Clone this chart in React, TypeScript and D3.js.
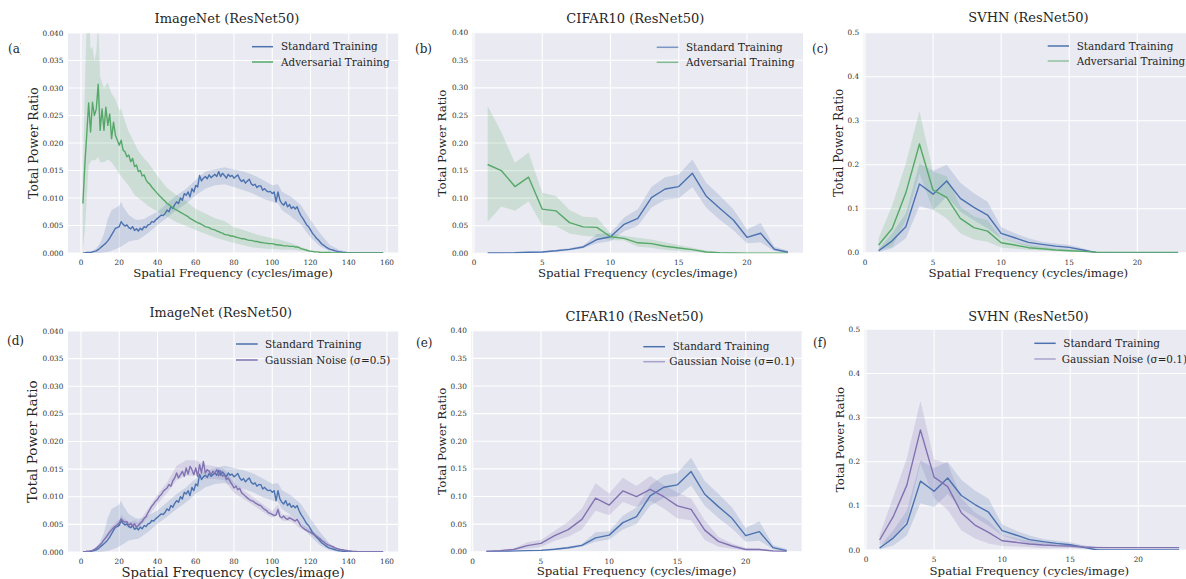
import React from 'react';
import * as d3 from 'd3';

// ---------- data ----------

// ImageNet: spatial frequency 1..158
const IN_FREQ = d3.range(1, 159);
// coarser grid used for the confidence bands
const IN_BAND_FREQ = [1, 2, 3, 4, 5, 6, 7, 8, 9, 10, 12, 14, 16, 18, 20, 21, 22, 25, 28, 30, 33, 35, 40, 45, 50,
  55, 60, 65, 70, 75, 80, 85, 90, 95, 100, 103, 105, 110, 115, 120, 125, 130, 135, 140, 145, 150, 158];

const IN_STD = [
  0, 0, 0.0001, 0.0001, 0.0001, 0.0002, 0.0003, 0.0004, 0.0006, 0.0009,
  0.0012, 0.0015, 0.0018, 0.0022, 0.0027, 0.0033, 0.0039, 0.0045, 0.0046, 0.0048,
  0.0057, 0.0052, 0.0049, 0.0051, 0.0046, 0.0044, 0.0048, 0.0041, 0.0044, 0.0040,
  0.0045, 0.0042, 0.0048, 0.0046, 0.0051, 0.0052, 0.0057, 0.0056, 0.0060, 0.0063,
  0.0066, 0.0069, 0.0068, 0.0072, 0.0078, 0.0075, 0.0084, 0.0081, 0.0088, 0.0093,
  0.0090, 0.0100, 0.0096, 0.0108, 0.0105, 0.0111, 0.0102, 0.0117, 0.0111, 0.0123,
  0.0120, 0.0141, 0.0131, 0.0136, 0.0139, 0.0135, 0.0142, 0.0137, 0.0140, 0.0143,
  0.0139, 0.0148, 0.0139, 0.0145, 0.0141, 0.0136, 0.0143, 0.0139, 0.0141, 0.0136,
  0.0139, 0.0142, 0.0134, 0.0130, 0.0133, 0.0127, 0.0131, 0.0134, 0.0126, 0.0123,
  0.0125, 0.0119, 0.0122, 0.0122, 0.0114, 0.0117, 0.0113, 0.0111, 0.0112, 0.0108,
  0.0111, 0.0093, 0.0111, 0.0096, 0.0090, 0.0087, 0.0093, 0.0084, 0.0088, 0.0081,
  0.0084, 0.0080, 0.0084, 0.0075, 0.0068, 0.0063, 0.0057, 0.0051, 0.0048, 0.0042,
  0.0036, 0.0032, 0.0027, 0.0024, 0.0020, 0.0016, 0.0014, 0.0011, 0.0009, 0.0007,
  0.0006, 0.0005, 0.0004, 0.0003, 0.0002, 0.0002, 0.0001, 0.0001, 0, 0,
  0, 0, 0, 0, 0, 0, 0, 0, 0, 0,
  0, 0, 0, 0, 0, 0, 0, 0,
];
const IN_STD_LO = [0, 0, 0, 0, 0, 0, 0, 0, 0, 0, 0.0001, 0.0002, 0.0004, 0.0007, 0.0010,
  0.0012, 0.0014, 0.0021, 0.0023, 0.0024, 0.0031, 0.0036, 0.0051, 0.0064, 0.0078,
  0.0090, 0.0105, 0.0117, 0.0123, 0.0125, 0.0120, 0.0114, 0.0108, 0.0099, 0.0093,
  0.0090, 0.0078, 0.0066, 0.0052, 0.0028, 0.0012, 0.0003, 0, 0, 0, 0, 0];
const IN_STD_HI = [0, 0, 0.0001, 0.0001, 0.0002, 0.0004, 0.0006, 0.0009, 0.0013, 0.0018, 0.0035, 0.0062, 0.0078, 0.0082, 0.0086,
  0.0093, 0.0084, 0.0069, 0.0062, 0.0060, 0.0062, 0.0066, 0.0075, 0.0090, 0.0105,
  0.0117, 0.0133, 0.0148, 0.0152, 0.0156, 0.0152, 0.0148, 0.0142, 0.0133, 0.0123,
  0.0125, 0.0112, 0.0102, 0.0087, 0.0060, 0.0036, 0.0015, 0.0006, 0.0002, 0, 0, 0];

const IN_ADV = [
  0.0090, 0.0160, 0.0215, 0.0273, 0.0220, 0.0274, 0.0250, 0.0262, 0.0307, 0.0223,
  0.0262, 0.0223, 0.0265, 0.0232, 0.0253, 0.0208, 0.0238, 0.0214, 0.0205, 0.0196,
  0.0205, 0.0187, 0.0184, 0.0175, 0.0178, 0.0166, 0.0172, 0.0157, 0.0160, 0.0148,
  0.0150, 0.0140, 0.0142, 0.0133, 0.0128, 0.0125, 0.0120, 0.0116, 0.0112, 0.0108,
  0.0104, 0.0101, 0.0097, 0.0094, 0.0090, 0.0088, 0.0085, 0.0083, 0.0080, 0.0078,
  0.0076, 0.0074, 0.0072, 0.0070, 0.0068, 0.0066, 0.0063, 0.0061, 0.0059, 0.0057,
  0.0055, 0.0054, 0.0052, 0.0050, 0.0048, 0.0047, 0.0046, 0.0044, 0.0043, 0.0042,
  0.0040, 0.0039, 0.0037, 0.0036, 0.0034, 0.0033, 0.0033, 0.0031, 0.0031, 0.0030,
  0.0029, 0.0028, 0.0027, 0.0026, 0.0026, 0.0025, 0.0024, 0.0023, 0.0023, 0.0022,
  0.0021, 0.0021, 0.0020, 0.0019, 0.0019, 0.0018, 0.0018, 0.0017, 0.0017, 0.0017,
  0.0016, 0.0015, 0.0015, 0.0014, 0.0014, 0.0013, 0.0013, 0.0013, 0.0012, 0.0012,
  0.0012, 0.0011, 0.0011, 0.0010, 0.0008, 0.0007, 0.0006, 0.0005, 0.0004, 0.0003,
  0.0003, 0.0002, 0.0002, 0.0002, 0.0001, 0.0001, 0.0001, 0.0001, 0.0001, 0.0001,
  0, 0, 0, 0, 0, 0, 0, 0, 0, 0,
  0, 0, 0, 0, 0, 0, 0, 0, 0, 0,
  0, 0, 0, 0, 0, 0, 0, 0,
];
const IN_ADV_LO = [0.0005, 0.0040, 0.0100, 0.0160, 0.0165, 0.0170, 0.0168, 0.0170, 0.0175, 0.0165, 0.0165, 0.0170, 0.0165, 0.0155, 0.0143,
  0.0140, 0.0135, 0.0122, 0.0106, 0.0100, 0.0092, 0.0086, 0.0075, 0.0066, 0.0056,
  0.0049, 0.0042, 0.0035, 0.0028, 0.0023, 0.0018, 0.0014, 0.0010, 0.0008, 0.0007,
  0.0007, 0.0006, 0.0006, 0.0004, 0.0002, 0.0001, 0, 0, 0, 0, 0, 0];
const IN_ADV_HI = [0.0140, 0.0300, 0.0420, 0.0450, 0.0370, 0.0375, 0.0350, 0.0365, 0.0420, 0.0320, 0.0300, 0.0310, 0.0290, 0.0280, 0.0260,
  0.0262, 0.0250, 0.0220, 0.0200, 0.0185, 0.0172, 0.0165, 0.0140, 0.0118, 0.0105,
  0.0094, 0.0080, 0.0072, 0.0063, 0.0058, 0.0047, 0.0042, 0.0036, 0.0031, 0.0027,
  0.0025, 0.0023, 0.0018, 0.0011, 0.0005, 0.0002, 0.0001, 0, 0, 0, 0, 0];

const IN_GAUSS = [
  0, 0, 0.0001, 0.0001, 0.0002, 0.0003, 0.0005, 0.0007, 0.0010, 0.0013,
  0.0017, 0.0022, 0.0026, 0.0031, 0.0036, 0.0040, 0.0044, 0.0047, 0.0049, 0.0053,
  0.0060, 0.0056, 0.0054, 0.0055, 0.0048, 0.0052, 0.0047, 0.0051, 0.0045, 0.0048,
  0.0052, 0.0055, 0.0061, 0.0064, 0.0071, 0.0077, 0.0083, 0.0087, 0.0092, 0.0095,
  0.0101, 0.0104, 0.0110, 0.0113, 0.0116, 0.0122, 0.0119, 0.0129, 0.0134, 0.0143,
  0.0134, 0.0140, 0.0146, 0.0137, 0.0152, 0.0141, 0.0155, 0.0149, 0.0140, 0.0152,
  0.0137, 0.0158, 0.0143, 0.0164, 0.0143, 0.0149, 0.0146, 0.0140, 0.0146, 0.0143,
  0.0149, 0.0138, 0.0147, 0.0137, 0.0140, 0.0131, 0.0134, 0.0128, 0.0122, 0.0116,
  0.0119, 0.0113, 0.0115, 0.0107, 0.0104, 0.0101, 0.0098, 0.0095, 0.0093, 0.0092,
  0.0089, 0.0087, 0.0085, 0.0084, 0.0080, 0.0077, 0.0075, 0.0071, 0.0070, 0.0068,
  0.0066, 0.0067, 0.0077, 0.0064, 0.0062, 0.0065, 0.0061, 0.0059, 0.0062, 0.0060,
  0.0058, 0.0056, 0.0059, 0.0053, 0.0047, 0.0044, 0.0041, 0.0039, 0.0037, 0.0036,
  0.0033, 0.0031, 0.0029, 0.0026, 0.0024, 0.0020, 0.0018, 0.0015, 0.0013, 0.0012,
  0.0010, 0.0009, 0.0007, 0.0006, 0.0005, 0.0004, 0.0004, 0.0003, 0.0003, 0.0002,
  0.0002, 0.0001, 0.0001, 0.0001, 0, 0, 0, 0, 0, 0,
  0, 0, 0, 0, 0, 0, 0, 0,
];
const IN_GAUSS_LO = [0, 0, 0, 0, 0, 0, 0, 0.0004, 0.0006, 0.0010, 0.0018, 0.0026, 0.0034, 0.0041, 0.0047,
  0.0053, 0.0050, 0.0043, 0.0045, 0.0043, 0.0055, 0.0064, 0.0087, 0.0107, 0.0130,
  0.0138, 0.0138, 0.0132, 0.0132, 0.0130, 0.0107, 0.0096, 0.0085, 0.0073, 0.0062,
  0.0068, 0.0057, 0.0055, 0.0042, 0.0032, 0.0021, 0.0010, 0.0004, 0.0001, 0, 0, 0];
const IN_GAUSS_HI = [0, 0, 0.0001, 0.0001, 0.0002, 0.0004, 0.0006, 0.0009, 0.0013, 0.0016, 0.0026, 0.0036, 0.0046, 0.0053, 0.0059,
  0.0067, 0.0063, 0.0054, 0.0057, 0.0054, 0.0068, 0.0078, 0.0104, 0.0126, 0.0156,
  0.0166, 0.0166, 0.0158, 0.0155, 0.0150, 0.0126, 0.0112, 0.0099, 0.0087, 0.0074,
  0.0086, 0.0068, 0.0066, 0.0052, 0.0040, 0.0027, 0.0014, 0.0006, 0.0003, 0.0001, 0, 0];

// CIFAR10 / SVHN: spatial frequency 1..23
const SMALL_FREQ = d3.range(1, 24);

const CIFAR_STD = [0.0006, 0.0006, 0.001, 0.002, 0.0024, 0.0045, 0.0072, 0.0115, 0.025, 0.030, 0.0526, 0.0634,
  0.101, 0.1166, 0.121, 0.145, 0.104, 0.0816, 0.0604, 0.029, 0.0363, 0.0073, 0.002];
const CIFAR_STD_LO = [0, 0, 0, 0.001, 0.0015, 0.003, 0.005, 0.009, 0.018, 0.022, 0.040, 0.050,
  0.083, 0.097, 0.100, 0.120, 0.083, 0.061, 0.042, 0.018, 0.020, 0.004, 0];
const CIFAR_STD_HI = [0.001, 0.001, 0.002, 0.003, 0.0035, 0.006, 0.0095, 0.014, 0.035, 0.037, 0.065, 0.080,
  0.120, 0.138, 0.143, 0.170, 0.128, 0.105, 0.080, 0.043, 0.055, 0.012, 0.005];

const CIFAR_ADV = [0.161, 0.150, 0.121, 0.138, 0.080, 0.077, 0.0556, 0.048, 0.047, 0.030, 0.027, 0.019,
  0.0175, 0.0127, 0.0097, 0.0066, 0.0024, 0.0012, 0.0006, 0.0003, 0.0003, 0.0003, 0.0003];
const CIFAR_ADV_LO = [0.057, 0.085, 0.077, 0.094, 0.051, 0.0495, 0.036, 0.032, 0.030, 0.024, 0.023, 0.012,
  0.010, 0.006, 0.004, 0.003, 0.001, 0, 0, 0, 0, 0, 0];
const CIFAR_ADV_HI = [0.267, 0.220, 0.164, 0.183, 0.110, 0.104, 0.0785, 0.0665, 0.065, 0.036, 0.032, 0.0284,
  0.025, 0.020, 0.015, 0.010, 0.005, 0.002, 0.001, 0.001, 0.001, 0.001, 0.001];

const CIFAR_GAUSS = [0.0006, 0.002, 0.004, 0.011, 0.015, 0.029, 0.040, 0.0585, 0.097, 0.0845, 0.110, 0.0995,
  0.113, 0.0995, 0.083, 0.0766, 0.039, 0.0187, 0.0103, 0.004, 0.004, 0.0012, 0.0006];
const CIFAR_GAUSS_LO = [0, 0.001, 0.002, 0.0054, 0.008, 0.020, 0.027, 0.040, 0.074, 0.066, 0.090, 0.081,
  0.092, 0.078, 0.060, 0.057, 0.021, 0.009, 0.0054, 0.002, 0.002, 0.0005, 0];
const CIFAR_GAUSS_HI = [0.001, 0.003, 0.006, 0.017, 0.021, 0.038, 0.054, 0.078, 0.124, 0.1055, 0.134, 0.119,
  0.137, 0.1206, 0.107, 0.0965, 0.057, 0.027, 0.015, 0.007, 0.006, 0.002, 0.001];

const SVHN_STD = [0.0045, 0.027, 0.059, 0.156, 0.133, 0.163, 0.1235, 0.103, 0.0856, 0.044, 0.034, 0.0235,
  0.019, 0.015, 0.012, 0.006, 0, 0, 0, 0, 0, 0, 0];
const SVHN_STD_LO = [0.001, 0.010, 0.0326, 0.106, 0.097, 0.127, 0.093, 0.074, 0.055, 0.0326, 0.0235, 0.0136,
  0.011, 0.008, 0.006, 0.0023, 0, 0, 0, 0, 0, 0, 0];
const SVHN_STD_HI = [0.0076, 0.044, 0.089, 0.203, 0.186, 0.200, 0.159, 0.135, 0.116, 0.058, 0.044, 0.0326,
  0.025, 0.021, 0.0174, 0.010, 0.001, 0, 0, 0, 0, 0, 0];

const SVHN_ADV = [0.0174, 0.055, 0.136, 0.247, 0.142, 0.126, 0.078, 0.057, 0.049, 0.0227, 0.0174, 0.0114,
  0.009, 0.006, 0.0045, 0.003, 0.001, 0.0005, 0.0005, 0.0005, 0.0005, 0.0005, 0.0005];
const SVHN_ADV_LO = [0.005, 0.0136, 0.074, 0.180, 0.098, 0.078, 0.044, 0.030, 0.025, 0.012, 0.009, 0.006,
  0.005, 0.004, 0.003, 0.002, 0, 0, 0, 0, 0, 0, 0];
const SVHN_ADV_HI = [0.0326, 0.108, 0.203, 0.322, 0.184, 0.174, 0.105, 0.082, 0.074, 0.034, 0.025, 0.0174,
  0.013, 0.009, 0.007, 0.005, 0.002, 0.001, 0.001, 0.001, 0.001, 0.001, 0.001];

const SVHN_GAUSS = [0.0227, 0.0755, 0.147, 0.272, 0.165, 0.1435, 0.0846, 0.0566, 0.040, 0.021, 0.0174, 0.0136,
  0.0113, 0.0098, 0.009, 0.0068, 0.0053, 0.0053, 0.0053, 0.0053, 0.0053, 0.0053, 0.0053];
const SVHN_GAUSS_LO = [0.011, 0.026, 0.068, 0.196, 0.117, 0.0906, 0.045, 0.026, 0.015, 0.009, 0.008, 0.006,
  0.004, 0.004, 0.004, 0.004, 0.004, 0.004, 0.004, 0.004, 0.004, 0.004, 0.004];
const SVHN_GAUSS_HI = [0.034, 0.120, 0.208, 0.338, 0.205, 0.196, 0.117, 0.085, 0.066, 0.034, 0.027, 0.021,
  0.017, 0.015, 0.013, 0.010, 0.008, 0.007, 0.007, 0.007, 0.007, 0.007, 0.007];

// ticks
const IN_X_TICKS = [0, 20, 40, 60, 80, 100, 120, 140, 160];
const SMALL_X_TICKS = [0, 5, 10, 15, 20];
const IN_Y_TICKS = [0, 0.005, 0.01, 0.015, 0.02, 0.025, 0.03, 0.035, 0.04];
const CIFAR_Y_TICKS = [0, 0.05, 0.1, 0.15, 0.2, 0.25, 0.3, 0.35, 0.4];
const SVHN_Y_TICKS = [0, 0.1, 0.2, 0.3, 0.4, 0.5];

const STD_NAME = 'Standard Training';
const ADV_NAME = 'Adversarial Training';

// ---------- styling ----------
const BG = '#EAEAF2';
const BLUE = '#4C72B0';
const GREEN = '#55A868';
const PURPLE = '#8172B2';
const FONT = '"DejaVu Serif", serif';
const X_LABEL = 'Spatial Frequency (cycles/image)';
const Y_LABEL = 'Total Power Ratio';

interface Curve {
  x: number[];
  y: number[];
  bandX: number[];
  lo: number[];
  hi: number[];
  color: string;
}

interface LegendItem {
  name: string;
  color: string;
  opacity: number;
  textX: number;
}

interface PanelSpec {
  id: string;
  tag: string;
  tagX: number;
  tagY: number;
  tagClipX?: number;
  title: string;
  titleX: number;
  titleY: number;
  titleSize: number;
  xRef: [number, number];
  xPix: [number, number];
  xLim: [number, number];
  yLim: [number, number];
  yPix: [number, number];
  xTicks: number[];
  yTicks: number[];
  yFmt: string;
  xLabelY: number;
  xLabelSize: number;
  yLabelX: number;
  yLabelSize: number;
  curves: Curve[];
  legend: LegendItem[];
  legendLine: [number, number];
  legendY: number[];
}

const curve = (x: number[], y: number[], bandX: number[], lo: number[], hi: number[], color: string): Curve =>
  ({ x, y, bandX, lo, hi, color });

const inStd = curve(IN_FREQ, IN_STD, IN_BAND_FREQ, IN_STD_LO, IN_STD_HI, BLUE);
const inAdv = curve(IN_FREQ, IN_ADV, IN_BAND_FREQ, IN_ADV_LO, IN_ADV_HI, GREEN);
const inGauss = curve(IN_FREQ, IN_GAUSS, IN_BAND_FREQ, IN_GAUSS_LO, IN_GAUSS_HI, PURPLE);
const cfStd = curve(SMALL_FREQ, CIFAR_STD, SMALL_FREQ, CIFAR_STD_LO, CIFAR_STD_HI, BLUE);
const cfAdv = curve(SMALL_FREQ, CIFAR_ADV, SMALL_FREQ, CIFAR_ADV_LO, CIFAR_ADV_HI, GREEN);
const cfGauss = curve(SMALL_FREQ, CIFAR_GAUSS, SMALL_FREQ, CIFAR_GAUSS_LO, CIFAR_GAUSS_HI, PURPLE);
const svStd = curve(SMALL_FREQ, SVHN_STD, SMALL_FREQ, SVHN_STD_LO, SVHN_STD_HI, BLUE);
const svAdv = curve(SMALL_FREQ, SVHN_ADV, SMALL_FREQ, SVHN_ADV_LO, SVHN_ADV_HI, GREEN);
const svGauss = curve(SMALL_FREQ, SVHN_GAUSS, SMALL_FREQ, SVHN_GAUSS_LO, SVHN_GAUSS_HI, PURPLE);

const PANELS: PanelSpec[] = [
  {
    id: 'a', tag: '(a)', tagX: 8, tagY: 53, tagClipX: 21,
    title: 'ImageNet (ResNet50)', titleX: 227, titleY: 22.7, titleSize: 13,
    xRef: [0, 160], xPix: [81, 387], xLim: [-6.85, 165.85],
    yLim: [0, 0.04], yPix: [253, 33],
    xTicks: IN_X_TICKS, yTicks: IN_Y_TICKS, yFmt: '.3f',
    xLabelY: 276.7, xLabelSize: 11.8, yLabelX: 37.5, yLabelSize: 12.4,
    curves: [inStd, inAdv],
    legend: [
      { name: STD_NAME, color: BLUE, opacity: 1, textX: 281 },
      { name: ADV_NAME, color: GREEN, opacity: 1, textX: 281 },
    ],
    legendLine: [252, 273], legendY: [46.7, 62],
  },
  {
    id: 'b', tag: '(b)', tagX: 415, tagY: 53,
    title: 'CIFAR10 (ResNet50)', titleX: 635.3, titleY: 22.7, titleSize: 13,
    xRef: [0, 20], xPix: [474, 747], xLim: [-0.1, 24.1],
    yLim: [0, 0.4], yPix: [253.3, 32.7],
    xTicks: SMALL_X_TICKS, yTicks: CIFAR_Y_TICKS, yFmt: '.2f',
    xLabelY: 276.7, xLabelSize: 11.8, yLabelX: 446, yLabelSize: 11.9,
    curves: [cfStd, cfAdv],
    legend: [
      { name: STD_NAME, color: BLUE, opacity: 0.7, textX: 686 },
      { name: ADV_NAME, color: GREEN, opacity: 0.7, textX: 686 },
    ],
    legendLine: [656.7, 678.3], legendY: [47.3, 62.3],
  },
  {
    id: 'c', tag: '(c)', tagX: 812, tagY: 53,
    title: 'SVHN (ResNet50)', titleX: 1028.5, titleY: 21.7, titleSize: 13,
    xRef: [0, 20], xPix: [865, 1137.3], xLim: [-0.1, 24.1],
    yLim: [0, 0.5], yPix: [252.7, 32.7],
    xTicks: SMALL_X_TICKS, yTicks: SVHN_Y_TICKS, yFmt: '.1f',
    xLabelY: 276.7, xLabelSize: 11.8, yLabelX: 843, yLabelSize: 12,
    curves: [svStd, svAdv],
    legend: [
      { name: STD_NAME, color: BLUE, opacity: 1, textX: 1076.7 },
      { name: ADV_NAME, color: GREEN, opacity: 0.6, textX: 1076.7 },
    ],
    legendLine: [1047.7, 1069], legendY: [46, 61],
  },
  {
    id: 'd', tag: '(d)', tagX: 7, tagY: 345,
    title: 'ImageNet (ResNet50)', titleX: 220.8, titleY: 316.7, titleSize: 12.8,
    xRef: [0, 160], xPix: [81, 387], xLim: [-6.85, 165.85],
    yLim: [0, 0.04], yPix: [552, 331],
    xTicks: IN_X_TICKS, yTicks: IN_Y_TICKS, yFmt: '.3f',
    xLabelY: 577, xLabelSize: 13.2, yLabelX: 37, yLabelSize: 13.6,
    curves: [inStd, inGauss],
    legend: [
      { name: STD_NAME, color: BLUE, opacity: 1, textX: 265 },
      { name: 'Gaussian Noise (σ=0.5)', color: PURPLE, opacity: 1, textX: 265 },
    ],
    legendLine: [236, 257.7], legendY: [344, 360],
  },
  {
    id: 'e', tag: '(e)', tagX: 416, tagY: 346.7,
    title: 'CIFAR10 (ResNet50)', titleX: 634.5, titleY: 321, titleSize: 13,
    xRef: [0, 20], xPix: [472.7, 745.7], xLim: [-0.1, 24.1],
    yLim: [0, 0.4], yPix: [551.7, 330.7],
    xTicks: SMALL_X_TICKS, yTicks: CIFAR_Y_TICKS, yFmt: '.2f',
    xLabelY: 575, xLabelSize: 11.8, yLabelX: 446, yLabelSize: 11.9,
    curves: [cfStd, cfGauss],
    legend: [
      { name: STD_NAME, color: BLUE, opacity: 1, textX: 672.7 },
      { name: 'Gaussian Noise (σ=0.1)', color: PURPLE, opacity: 0.6, textX: 669.3 },
    ],
    legendLine: [643.3, 665], legendY: [346.7, 361.7],
  },
  {
    id: 'f', tag: '(f)', tagX: 813, tagY: 346.7,
    title: 'SVHN (ResNet50)', titleX: 1028.5, titleY: 320.7, titleSize: 13,
    xRef: [0, 20], xPix: [866, 1138.3], xLim: [-0.1, 24.1],
    yLim: [0, 0.5], yPix: [550, 329.3],
    xTicks: SMALL_X_TICKS, yTicks: SVHN_Y_TICKS, yFmt: '.1f',
    xLabelY: 575, xLabelSize: 11.8, yLabelX: 843.5, yLabelSize: 11.7,
    curves: [svStd, svGauss],
    legend: [
      { name: STD_NAME, color: BLUE, opacity: 1, textX: 1063.3 },
      { name: 'Gaussian Noise (σ=0.1)', color: PURPLE, opacity: 0.6, textX: 1061.7 },
    ],
    legendLine: [1034.3, 1055.7], legendY: [343.3, 359],
  },
];

const Panel: React.FC<{ p: PanelSpec }> = ({ p }) => {
  const xs = d3.scaleLinear().domain(p.xRef).range(p.xPix);
  const ys = d3.scaleLinear().domain(p.yLim).range(p.yPix);
  const left = xs(p.xLim[0]);
  const right = xs(p.xLim[1]);
  const top = ys(p.yLim[1]);
  const bottom = ys(p.yLim[0]);
  const fmt = d3.format(p.yFmt);
  const clipId = `plot-clip-${p.id}`;

  const line = d3.line<[number, number]>().x(d => xs(d[0])).y(d => ys(d[1]));
  const area = d3.area<[number, number, number]>()
    .x(d => xs(d[0]))
    .y0(d => ys(d[1]))
    .y1(d => ys(d[2]));

  return (
    <g>
      <defs>
        <clipPath id={clipId}>
          <rect x={left} y={top} width={right - left} height={bottom - top} />
        </clipPath>
        {p.tagClipX !== undefined && (
          <clipPath id={`tag-clip-${p.id}`}>
            <rect x={0} y={p.tagY - 20} width={p.tagClipX} height={30} />
          </clipPath>
        )}
      </defs>

      {/* background + grid */}
      <rect x={left} y={top} width={right - left} height={bottom - top} fill={BG} />
      {p.yTicks.map(t => (
        <line key={`gy${t}`} x1={left} x2={right} y1={ys(t)} y2={ys(t)} stroke="#fff" strokeWidth={1.1} />
      ))}
      {p.xTicks.map(t => (
        <line key={`gx${t}`} x1={xs(t)} x2={xs(t)} y1={top} y2={bottom} stroke="#fff" strokeWidth={1.1} />
      ))}

      {/* bands, then mean lines */}
      <g clipPath={`url(#${clipId})`}>
        {p.curves.map((c, i) => (
          <path
            key={`band${i}`}
            d={area(c.bandX.map((x, j) => [x, c.lo[j], c.hi[j]] as [number, number, number])) || ''}
            fill={c.color}
            fillOpacity={0.2}
          />
        ))}
        {p.curves.map((c, i) => (
          <path
            key={`line${i}`}
            d={line(c.x.map((x, j) => [x, c.y[j]] as [number, number])) || ''}
            fill="none"
            stroke={c.color}
            strokeWidth={1.4}
            strokeLinejoin="round"
          />
        ))}
      </g>

      {/* tick labels */}
      {p.xTicks.map(t => (
        <text key={`tx${t}`} x={xs(t)} y={bottom + 12} fontSize={7.3} fill="#333" textAnchor="middle">
          {t}
        </text>
      ))}
      {p.yTicks.map(t => (
        <text key={`ty${t}`} x={left - 4.5} y={ys(t)} dy="0.35em" fontSize={7.3} fill="#333" textAnchor="end">
          {fmt(t)}
        </text>
      ))}

      {/* axis labels and title */}
      <text x={(left + right) / 2} y={p.xLabelY} fontSize={p.xLabelSize} fill="#262626" textAnchor="middle">
        {X_LABEL}
      </text>
      <text
        transform={`translate(${p.yLabelX},${(top + bottom) / 2}) rotate(-90)`}
        fontSize={p.yLabelSize}
        fill="#262626"
        textAnchor="middle"
      >
        {Y_LABEL}
      </text>
      <text x={p.titleX} y={p.titleY} fontSize={p.titleSize} fill="#262626" textAnchor="middle">
        {p.title}
      </text>

      {/* legend */}
      {p.legend.map((l, i) => (
        <g key={`lg${i}`}>
          <line
            x1={p.legendLine[0]}
            x2={p.legendLine[1]}
            y1={p.legendY[i]}
            y2={p.legendY[i]}
            stroke={l.color}
            strokeOpacity={l.opacity}
            strokeWidth={1.5}
          />
          <text x={l.textX} y={p.legendY[i]} dy="0.35em" fontSize={10.4} fill="#262626">
            {l.name}
          </text>
        </g>
      ))}

      {/* panel tag */}
      <text
        x={p.tagX}
        y={p.tagY}
        fontSize={12}
        fill="#262626"
        clipPath={p.tagClipX !== undefined ? `url(#tag-clip-${p.id})` : undefined}
      >
        {p.tag}
      </text>
    </g>
  );
};

export default function App() {
  return (
    <div style={{ position: 'absolute', left: 0, top: 0 }}>
      <svg width={1186} height={579} style={{ display: 'block', background: '#fff', fontFamily: FONT }}>
        {PANELS.map(p => (
          <Panel key={p.id} p={p} />
        ))}
      </svg>
    </div>
  );
}
